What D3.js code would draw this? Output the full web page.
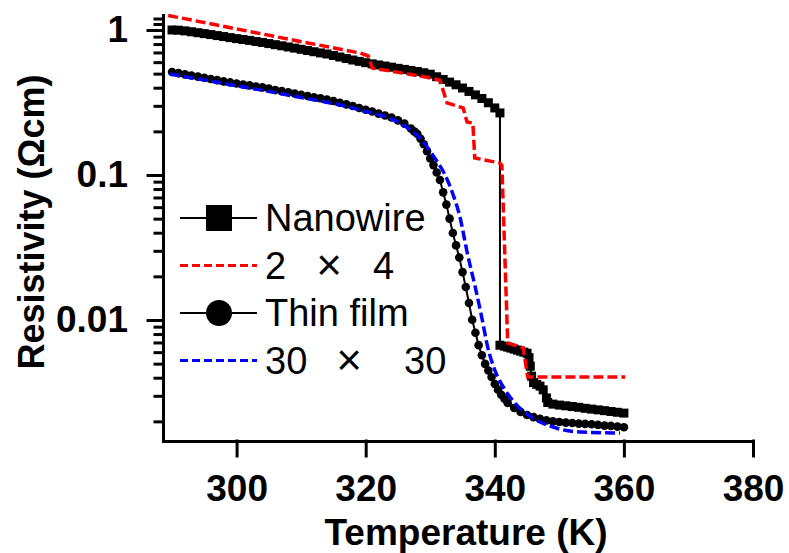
<!DOCTYPE html>
<html>
<head>
<meta charset="utf-8">
<script src="https://cdn.jsdelivr.net/npm/d3@7/dist/d3.min.js"></script>
<style>
  body { margin: 0; background: #fff; }
</style>
</head>
<body>
<div id="chart"></div>
<script>
// [temperature K, resistivity Ohm cm]
const nanowire = [
  [290, 1.00], [291, 0.997], [292, 0.986], [293, 0.972], [294, 0.958], [295, 0.944],
  [296, 0.930], [297, 0.915], [298, 0.901], [299, 0.886], [300, 0.872], [301, 0.860],
  [302, 0.848], [303, 0.834], [304, 0.821], [305, 0.806], [306, 0.792], [307, 0.778],
  [308, 0.764], [309, 0.750], [310, 0.736], [311, 0.722], [312, 0.708], [313, 0.695],
  [314, 0.683], [315, 0.667], [316, 0.651], [317, 0.636], [318, 0.621], [319, 0.608],
  [320, 0.595], [321, 0.584], [322, 0.574], [323, 0.564], [324, 0.554], [325, 0.544],
  [326, 0.535], [327, 0.526], [328, 0.517], [329, 0.507], [330, 0.496], [331, 0.476],
  [332, 0.456], [333, 0.437], [334, 0.419], [335, 0.398], [336, 0.377], [337, 0.357],
  [338, 0.337], [339, 0.315], [340, 0.290], [340.8, 0.268],
  [340.8, 0.0067], [341.5, 0.0066], [342, 0.0065], [342.5, 0.0064], [343, 0.0063],
  [343.5, 0.0062], [344, 0.0061], [344.5, 0.0060], [345, 0.0059], [345.3, 0.0055],
  [345.5, 0.0048], [345.7, 0.0041], [346, 0.0037], [346.5, 0.0036], [347, 0.0035],
  [347.5, 0.0033], [348, 0.0029], [348.2, 0.0027], [349, 0.00263], [350, 0.00259],
  [351, 0.00256], [352, 0.00253], [353, 0.0025], [354, 0.00246], [355, 0.00243],
  [356, 0.0024], [357, 0.00237], [358, 0.00234], [359, 0.00231], [360, 0.00228]
];

const thinFilm = [
  [290, 0.513], [291, 0.504], [292, 0.494], [293, 0.485], [294, 0.477], [295, 0.468],
  [296, 0.459], [297, 0.451], [298, 0.442], [299, 0.435], [300, 0.428], [301, 0.421],
  [302, 0.415], [303, 0.408], [304, 0.402], [305, 0.394], [306, 0.386], [307, 0.379],
  [308, 0.372], [309, 0.365], [310, 0.358], [311, 0.351], [312, 0.344], [313, 0.338],
  [314, 0.331], [315, 0.324], [316, 0.315], [317, 0.307], [318, 0.299], [319, 0.290],
  [320, 0.282], [321, 0.274], [322, 0.265], [323, 0.257], [324, 0.249], [325, 0.238],
  [326, 0.226], [327, 0.209], [327.5, 0.200], [328, 0.192], [328.5, 0.178], [329, 0.163],
  [329.5, 0.146], [330, 0.130], [330.5, 0.117], [331, 0.104], [331.5, 0.0923],
  [332, 0.0759], [332.5, 0.0625], [333, 0.050], [333.5, 0.0398], [334, 0.0327],
  [334.5, 0.0270], [335, 0.0214], [335.5, 0.0169], [336, 0.0131], [336.5, 0.01005],
  [337, 0.00817], [337.5, 0.00671], [338, 0.00571], [338.5, 0.00498], [339, 0.00449],
  [339.5, 0.00404], [340, 0.00362], [340.5, 0.00331], [341, 0.00305], [341.5, 0.00286],
  [342, 0.00268], [343, 0.00247], [344, 0.00232], [345, 0.00221], [346, 0.00214],
  [347, 0.00208], [348, 0.00203], [349, 0.00200], [350, 0.00198], [351, 0.00196],
  [352, 0.00195], [353, 0.00193], [354, 0.00192], [355, 0.00191], [356, 0.00189],
  [357, 0.00187], [358, 0.00186], [359, 0.00184], [360, 0.00182]
];

const sim2x4 = [
  [289.4, 1.26], [298.5, 1.049], [308.7, 0.853], [319.1, 0.694], [320.4, 0.662],
  [321.0, 0.547], [328.4, 0.482], [331.5, 0.452], [332.6, 0.314], [335.1, 0.290],
  [335.7, 0.232], [336.6, 0.228], [336.9, 0.131], [340.8, 0.121], [341.1, 0.117],
  [342.0, 0.00694], [344.4, 0.00641], [345.1, 0.00404], [360.2, 0.00404]
];

const sim30x30 = [
  [289.7, 0.497], [298.5, 0.424], [308.7, 0.351], [319.1, 0.281], [325.3, 0.228],
  [328.4, 0.180], [330.7, 0.131], [332.3, 0.100], [333.4, 0.0763], [334.6, 0.0513],
  [335.8, 0.0281], [336.9, 0.0174], [338.0, 0.01032], [338.9, 0.00651], [340.0, 0.00452],
  [341.6, 0.00329], [343.1, 0.00268], [345.4, 0.00218], [348.5, 0.00186],
  [353.2, 0.00169], [359.4, 0.00166]
];

const xTicks = [300, 320, 340, 360, 380];
const yTicks = [0.01, 0.1, 1];
const yMinorTicks = [0.002, 0.003, 0.004, 0.005, 0.006, 0.007, 0.008, 0.009,
  0.02, 0.03, 0.04, 0.05, 0.06, 0.07, 0.08, 0.09,
  0.2, 0.3, 0.4, 0.5, 0.6, 0.7, 0.8, 0.9, 1.1, 1.2];

const legendItems = [
  { label: ["Nanowire"], kind: "square" },
  { label: ["2", "\u00d7", "4"], kind: "red" },
  { label: ["Thin film"], kind: "circle" },
  { label: ["30", "\u00d7", "30"], kind: "blue" }
];

// no serif face in the sandbox, so use an Arial-metric sans
const font = "'Liberation Sans', Arimo, Arial, sans-serif";

let width = 789, height = 553;

let svg = d3.select("#chart")
  .append("svg")
  .attr("width", width)
  .attr("height", height)
  .attr("font-family", font);

let x = d3.scaleLinear()
  .domain([288.6, 380])
  .range([163, 753]);

let y = d3.scaleLog()
  .domain([0.001464, 1.269])
  .range([441, 15]);

// axes
let xAxis = svg.append("g")
  .attr("transform", translate(0, 441))
  .call(d3.axisBottom(x)
    .tickValues(xTicks)
    .tickSize(15)
    .tickSizeOuter(0)
    .tickPadding(19)
    .tickFormat(d3.format("d")));

let yMinor = svg.append("g")
  .attr("transform", translate(163, 0))
  .call(d3.axisLeft(y)
    .tickValues(yMinorTicks)
    .tickSize(8)
    .tickFormat(""));
yMinor.select(".domain").remove();

let yAxis = svg.append("g")
  .attr("transform", translate(163, 0))
  .call(d3.axisLeft(y)
    .tickValues(yTicks)
    .tickSize(15)
    .tickSizeOuter(0)
    .tickPadding(20)
    .tickFormat(d => String(d)));

svg.selectAll("g").attr("font-family", font);

svg.selectAll(".domain, .tick line")
  .attr("stroke", "#000")
  .attr("stroke-width", 3)
  .attr("stroke-linecap", "square");

svg.selectAll(".tick text")
  .style("font-size", "37px")
  .style("font-weight", "bold")
  .attr("fill", "#000");

svg.append("text")
  .attr("transform", translate(44, 222) + " rotate(-90)")
  .attr("text-anchor", "middle")
  .style("font-size", "36px")
  .style("font-weight", "bold")
  .text("Resistivity (\u03a9cm)");

svg.append("text")
  .attr("x", 466)
  .attr("y", 545)
  .attr("text-anchor", "middle")
  .style("font-size", "37px")
  .style("font-weight", "bold")
  .text("Temperature (K)");

// curves
let line = d3.line()
  .x(d => x(d[0]))
  .y(d => y(d[1]));

let smooth = d3.line()
  .x(d => x(d[0]))
  .y(d => y(d[1]))
  .curve(d3.curveMonotoneX);

svg.append("path")
  .datum(nanowire)
  .attr("d", line)
  .attr("fill", "none")
  .attr("stroke", "#000")
  .attr("stroke-width", 2);

svg.append("g").selectAll("rect")
  .data(nanowire)
  .enter().append("rect")
  .attr("x", d => x(d[0]) - 4.5)
  .attr("y", d => y(d[1]) - 4.5)
  .attr("width", 9)
  .attr("height", 9)
  .attr("fill", "#000");

svg.append("path")
  .datum(thinFilm)
  .attr("d", line)
  .attr("fill", "none")
  .attr("stroke", "#000")
  .attr("stroke-width", 2);

svg.append("g").selectAll("circle")
  .data(thinFilm)
  .enter().append("circle")
  .attr("cx", d => x(d[0]))
  .attr("cy", d => y(d[1]))
  .attr("r", 4.3)
  .attr("fill", "#000");

svg.append("path")
  .datum(sim2x4)
  .attr("d", line)
  .attr("fill", "none")
  .attr("stroke", "#ff0000")
  .attr("stroke-width", 3.5)
  .attr("stroke-dasharray", "10,4");

svg.append("path")
  .datum(sim30x30)
  .attr("d", smooth)
  .attr("fill", "none")
  .attr("stroke", "#0000ff")
  .attr("stroke-width", 3.5)
  .attr("stroke-dasharray", "10,4");

// legend
let legend = svg.append("g");
legendItems.forEach(function(item, i) {
  let ly = 218 + i * 47.5;
  let g = legend.append("g");
  if (item.kind === "red" || item.kind === "blue") {
    g.append("line")
      .attr("x1", 180).attr("x2", 257)
      .attr("y1", ly).attr("y2", ly)
      .attr("stroke", item.kind === "red" ? "#ff0000" : "#0000ff")
      .attr("stroke-width", 3)
      .attr("stroke-dasharray", "8,4");
  } else {
    g.append("line")
      .attr("x1", 180).attr("x2", 257)
      .attr("y1", ly).attr("y2", ly)
      .attr("stroke", "#000")
      .attr("stroke-width", 2);
    if (item.kind === "square") {
      g.append("rect")
        .attr("x", 206).attr("y", ly - 13)
        .attr("width", 26).attr("height", 26)
        .attr("fill", "#000");
    } else {
      g.append("circle")
        .attr("cx", 219).attr("cy", ly)
        .attr("r", 13)
        .attr("fill", "#000");
    }
  }
  let t = g.append("text")
    .attr("y", ly + 13)
    .style("font-size", "38px");
  if (item.label.length === 1) {
    t.append("tspan").attr("x", 265).text(item.label[0]);
  } else {
    let crossX = item.label[0].length === 1 ? 329 : 349;
    let lastX = item.label[0].length === 1 ? 373 : 404;
    t.append("tspan").attr("x", 265).text(item.label[0]);
    t.append("tspan").attr("x", crossX).attr("text-anchor", "middle")
      .attr("dy", 1)
      .style("font-size", "44px")
      .style("font-weight", "lighter")
      .text(item.label[1]);
    t.append("tspan").attr("x", lastX).attr("dy", -1).text(item.label[2]);
  }
});

function translate(x, y) {
  return "translate(" + x + "," + y + ")";
}
</script>
</body>
</html>
